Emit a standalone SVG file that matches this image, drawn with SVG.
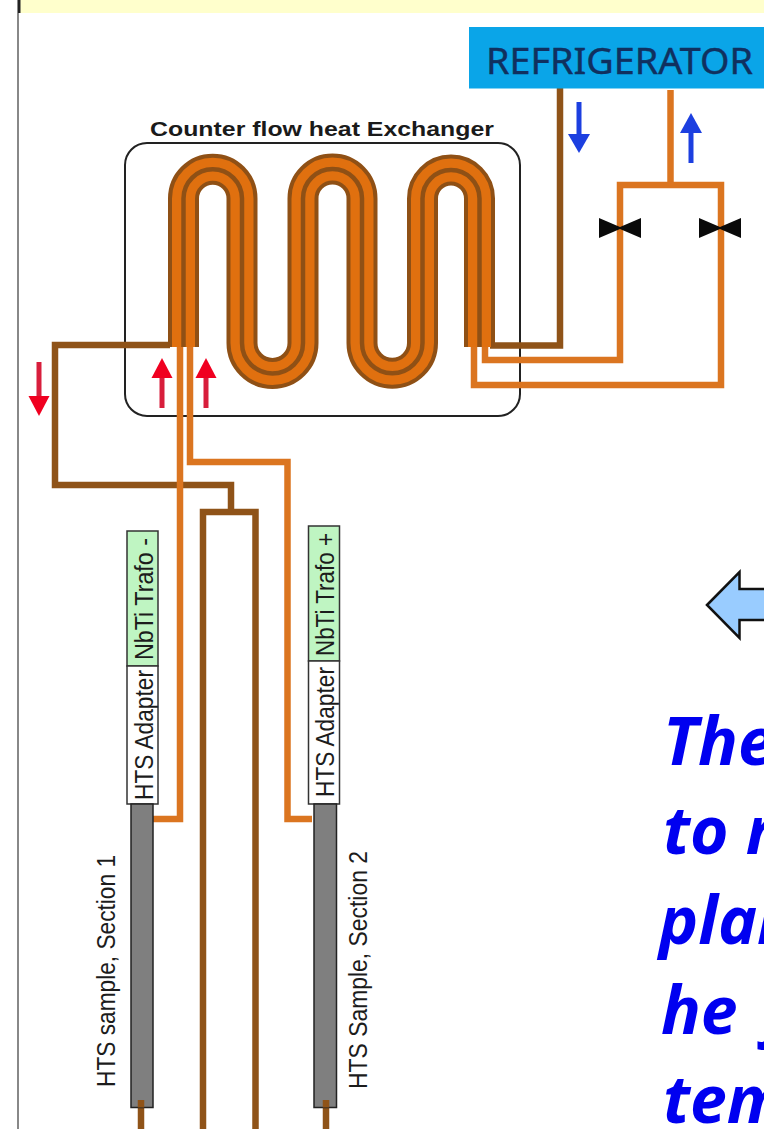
<svg xmlns="http://www.w3.org/2000/svg" width="764" height="1129" viewBox="0 0 764 1129">
<style>
.brown{fill:none;stroke:#8F5318;stroke-width:6.5;stroke-linejoin:miter}
.pipe{fill:none;stroke:#DB7520;stroke-width:6.5;stroke-linejoin:miter}
.coil1{fill:none;stroke:#8F5015;stroke-width:31}
.coil2{fill:none;stroke:#E0700F;stroke-width:23}
.coil3{fill:none;stroke:#8F5015;stroke-width:4.5}
.lbl{font-family:"Liberation Sans",Arial,sans-serif;font-size:25.5px;fill:#1c1c1c}
.big{font-family:"Open Sans","Noto Sans",sans-serif;font-weight:700;font-style:italic;font-size:66px;fill:#0000F0}
.trafo{fill:#BFF5C2;stroke:#333;stroke-width:1.5}
.adapter{fill:#fff;stroke:#333;stroke-width:1.5}
.sample{fill:#7F7F7F;stroke:#222;stroke-width:1.5}
.red{fill:#F00020}.redl{stroke:#D81E3C;stroke-width:5}
.blue{fill:#1C3FE0}.bluel{stroke:#1C3FE0;stroke-width:5}
</style>
<rect width="764" height="1129" fill="#fff"/>
<g id="frame">
<rect x="20" y="0" width="744" height="13" fill="#FFFFCC"/>
<rect x="17" y="0" width="2" height="1129" fill="#888"/>
<rect x="18" y="0" width="2.500" height="13" fill="#222"/>
</g>
<g id="heat-exchanger">
<rect x="125" y="143" width="395" height="273" rx="22" fill="#fff" stroke="#222" stroke-width="2"/>
<text x="150" y="136" font-family="Liberation Sans,Arial,sans-serif" font-weight="700" font-size="21" fill="#1a1a1a" textLength="344" lengthAdjust="spacingAndGlyphs">Counter flow heat Exchanger</text>
</g>
<g id="connectors">
<path class="brown" d="M170 345H55V485H231V512"/>
<path class="brown" d="M203 1129V512H255.500V1129"/>
<path class="pipe" d="M180 345V819H153"/>
<path class="pipe" d="M190 345V462H287.500V819H312"/>
<path class="brown" d="M490 345.500H560V88"/>
<path class="pipe" d="M670.500 90V185"/>
<path class="pipe" d="M485 345V360H620V185H721V385H474V345"/>
<path class="brown" d="M141 1100V1129"/>
<path class="brown" d="M326 1100V1129"/>
</g>
<g id="coil">
<path class="coil1" d="M183.500 347V198.500A29.250 29.250 0 0 1 242 198.500V343A30.500 30.500 0 0 0 303 343V198.500A29.500 29.500 0 0 1 362 198.500V343A30.250 30.250 0 0 0 422.500 343V198.500A28.500 28.500 0 0 1 479.500 198.500V347"/>
<path class="coil2" d="M183.500 347V198.500A29.250 29.250 0 0 1 242 198.500V343A30.500 30.500 0 0 0 303 343V198.500A29.500 29.500 0 0 1 362 198.500V343A30.250 30.250 0 0 0 422.500 343V198.500A28.500 28.500 0 0 1 479.500 198.500V347"/>
<path class="coil3" d="M183.500 347V198.500A29.250 29.250 0 0 1 242 198.500V343A30.500 30.500 0 0 0 303 343V198.500A29.500 29.500 0 0 1 362 198.500V343A30.250 30.250 0 0 0 422.500 343V198.500A28.500 28.500 0 0 1 479.500 198.500V347"/>
</g>
<g id="refrigerator">
<rect x="469" y="27" width="295" height="61.500" fill="#0AA5E8"/>
<text x="486" y="74" font-family="Noto Sans,Open Sans,sans-serif" font-size="37" fill="#10305F" stroke="#10305F" stroke-width="0.4" textLength="267" lengthAdjust="spacingAndGlyphs">REFRIGERATOR</text>
</g>
<g id="valve-1"><polygon points="599,218 620,227 641,218 641,238 620,229 599,238" fill="#0a0a0a"/></g>
<g id="valve-2"><polygon points="699,218 720,227 741,218 741,238 720,229 699,238" fill="#0a0a0a"/></g>
<g id="flow-arrows">
<path class="redl" d="M162 408V376M206 408V376"/>
<polygon class="red" points="162,358 172.500,378 151.500,378"/>
<polygon class="red" points="206,358 216.500,378 195.500,378"/>
<path class="redl" d="M39 362V398"/>
<polygon class="red" points="39,416 28.500,396 49.500,396"/>
<path class="bluel" d="M579 102V136"/>
<polygon class="blue" points="579,153 568,134 590,134"/>
<path class="bluel" d="M691 163V131"/>
<polygon class="blue" points="691,113 680,133 702,133"/>
</g>
<g id="trafo-minus"><rect class="trafo" x="127" y="531" width="31" height="135"/>
<text class="lbl" transform="translate(152.500 660) rotate(-90)" textLength="122" lengthAdjust="spacingAndGlyphs">NbTi Trafo -</text></g>
<g id="adapter-1"><rect class="adapter" x="127" y="666" width="31" height="138"/>
<text class="lbl" transform="translate(152.500 800) rotate(-90)" textLength="130" lengthAdjust="spacingAndGlyphs">HTS Adapter</text></g>
<g id="trafo-plus"><rect class="trafo" x="308.500" y="526" width="31" height="135"/>
<text class="lbl" transform="translate(333.500 656) rotate(-90)" textLength="123" lengthAdjust="spacingAndGlyphs">NbTi Trafo +</text></g>
<g id="adapter-2"><rect class="adapter" x="308.500" y="661" width="31" height="143"/>
<text class="lbl" transform="translate(333.500 797) rotate(-90)" textLength="130" lengthAdjust="spacingAndGlyphs">HTS Adapter</text></g>
<g id="sample-1"><rect class="sample" x="131" y="804" width="22" height="303.500"/>
<path class="brown" d="M141 1100V1107.500"/></g>
<g id="sample-2"><rect class="sample" x="314" y="804" width="22.500" height="303.500"/>
<path class="brown" d="M326 1100V1107.500"/></g>
<text class="lbl" transform="translate(115 1087) rotate(-90)" textLength="232" lengthAdjust="spacingAndGlyphs">HTS sample, Section 1</text>
<text class="lbl" transform="translate(366.500 1089) rotate(-90)" textLength="238" lengthAdjust="spacingAndGlyphs">HTS Sample, Section 2</text>
<g id="big-arrow"><polygon points="707,605 739.500,572 739.500,589 790,589 790,620 739.500,620 739.500,638" fill="#99CCFF" stroke="#111" stroke-width="2.500"/></g>
<g id="note">
<text class="big" x="663" y="765">The</text>
<text class="big" x="663" y="854">to r</text>
<text class="big" x="659" y="944">plan</text>
<text class="big" x="661" y="1034">he <tspan x="766">j</tspan></text>
<text class="big" x="663" y="1123">tem</text>
</g>
</svg>
